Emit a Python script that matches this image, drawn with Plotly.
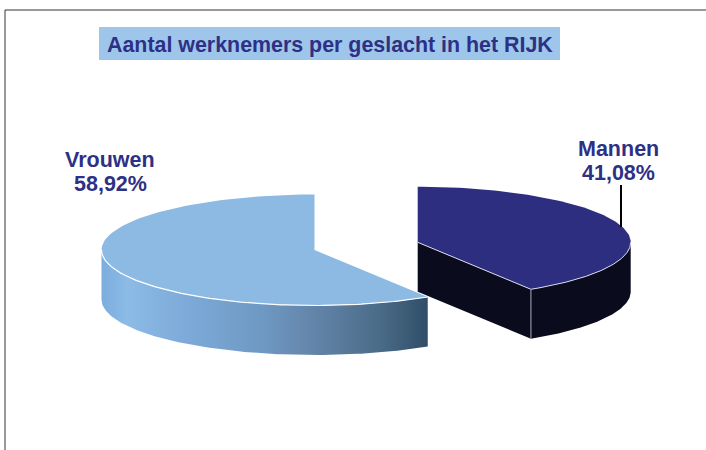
import numpy as np
import plotly.graph_objects as go

TITLE = "Aantal werknemers per geslacht in het RIJK"
categories = ["Mannen", "Vrouwen"]
shares = [41.08, 58.92]
share_labels = ["41,08%", "58,92%"]

W, H = 706, 450
RX, RY, DEPTH = 213, 55.5, 49.5
C_M = (417.7, 242.3)
C_V = (314.5, 250.0)
NAVY, NAVY_DARK = "#2E2E80", "#0A0C1E"
SKY = "#8DBAE3"
TEXT = "#2E3085"
GRAD = [[0, "#7BADDD"], [0.08, "#8CBBE6"], [0.26, "#7DAAD8"], [0.5, "#6D98C2"],
        [0.62, "#6688AE"], [0.85, "#4B6C88"], [1, "#2F4E68"]]

split = 360 * shares[0] / sum(shares)


def rim(c, a0, a1, n=120):
    t = np.radians(np.linspace(a0, a1, n))
    return c[0] + RX * np.sin(t), c[1] - RY * np.cos(t)


def poly(fig, x, y, color=None, grad=None):
    kw = dict(fillgradient=grad) if grad else dict(fillcolor=color)
    fig.add_trace(go.Scatter(x=x, y=y, mode="lines", fill="toself", line=dict(width=0),
                             hoverinfo="skip", showlegend=False, **kw))


def line(fig, x, y, color, width):
    fig.add_trace(go.Scatter(x=x, y=y, mode="lines", line=dict(color=color, width=width),
                             hoverinfo="skip", showlegend=False))


fig = go.Figure()

# Mannen: inner cut face, outer wall, top
ex, ey = rim(C_M, split, split, 1)
poly(fig, [C_M[0], ex[0], ex[0], C_M[0]],
     [C_M[1], ey[0], ey[0] + DEPTH, C_M[1] + DEPTH], NAVY_DARK)
ax, ay = rim(C_M, 90, split)
poly(fig, np.r_[ax, ax[::-1]], np.r_[ay, ay[::-1] + DEPTH], NAVY_DARK)
tx, ty = rim(C_M, 0, split)
poly(fig, np.r_[C_M[0], tx], np.r_[C_M[1], ty], NAVY)
line(fig, ax, ay, "#D5D8E8", 1)
line(fig, [C_M[0], ex[0]], [C_M[1], ey[0]], "#D5D8E8", 1)
line(fig, [ex[0], ex[0]], [ey[0], ey[0] + DEPTH], "#8E90A0", 1.2)

# Vrouwen: outer wall with gradient, top
ax, ay = rim(C_V, split, 270)
poly(fig, np.r_[ax, ax[::-1]], np.r_[ay, ay[::-1] + DEPTH],
     grad=dict(type="horizontal", colorscale=GRAD))
tx, ty = rim(C_V, split, 360)
poly(fig, np.r_[C_V[0], tx], np.r_[C_V[1], ty], SKY)
line(fig, ax, ay, "#FFFFFF", 1.2)

# leader line
line(fig, [621, 621], [185, 227], "#000000", 2)


def label(x, y, text, size):
    return dict(x=x, y=y, text=f"<b>{text}</b>", showarrow=False, font=dict(size=size, color=TEXT))


fig.update_layout(
    width=W, height=H, autosize=False,
    margin=dict(l=0, r=0, t=0, b=0),
    paper_bgcolor="white", plot_bgcolor="white",
    xaxis=dict(range=[0, W], visible=False, fixedrange=True),
    yaxis=dict(range=[H, 0], visible=False, fixedrange=True),
    font=dict(family="Liberation Sans, Arial, sans-serif", color=TEXT),
    shapes=[
        dict(type="rect", x0=99, x1=560, y0=27, y1=60, fillcolor="#9DC6EA", line=dict(width=0), layer="below"),
        dict(type="line", x0=5, x1=706, y0=10, y1=10, line=dict(color="#333333", width=1)),
        dict(type="line", x0=5, x1=5, y0=10, y1=450, line=dict(color="#333333", width=1)),
    ],
    annotations=[
        label(329.5, 44.5, TITLE, 21.4),
        label(618, 149, categories[0], 21.5),
        label(618, 173, share_labels[0], 21.5),
        label(110, 160, categories[1], 21.5),
        label(110, 184, share_labels[1], 21.5),
    ],
)
fig.write_html("out.html", config=dict(displayModeBar=False),
               post_script="document.body.style.margin='0';document.documentElement.style.overflow='hidden';")
